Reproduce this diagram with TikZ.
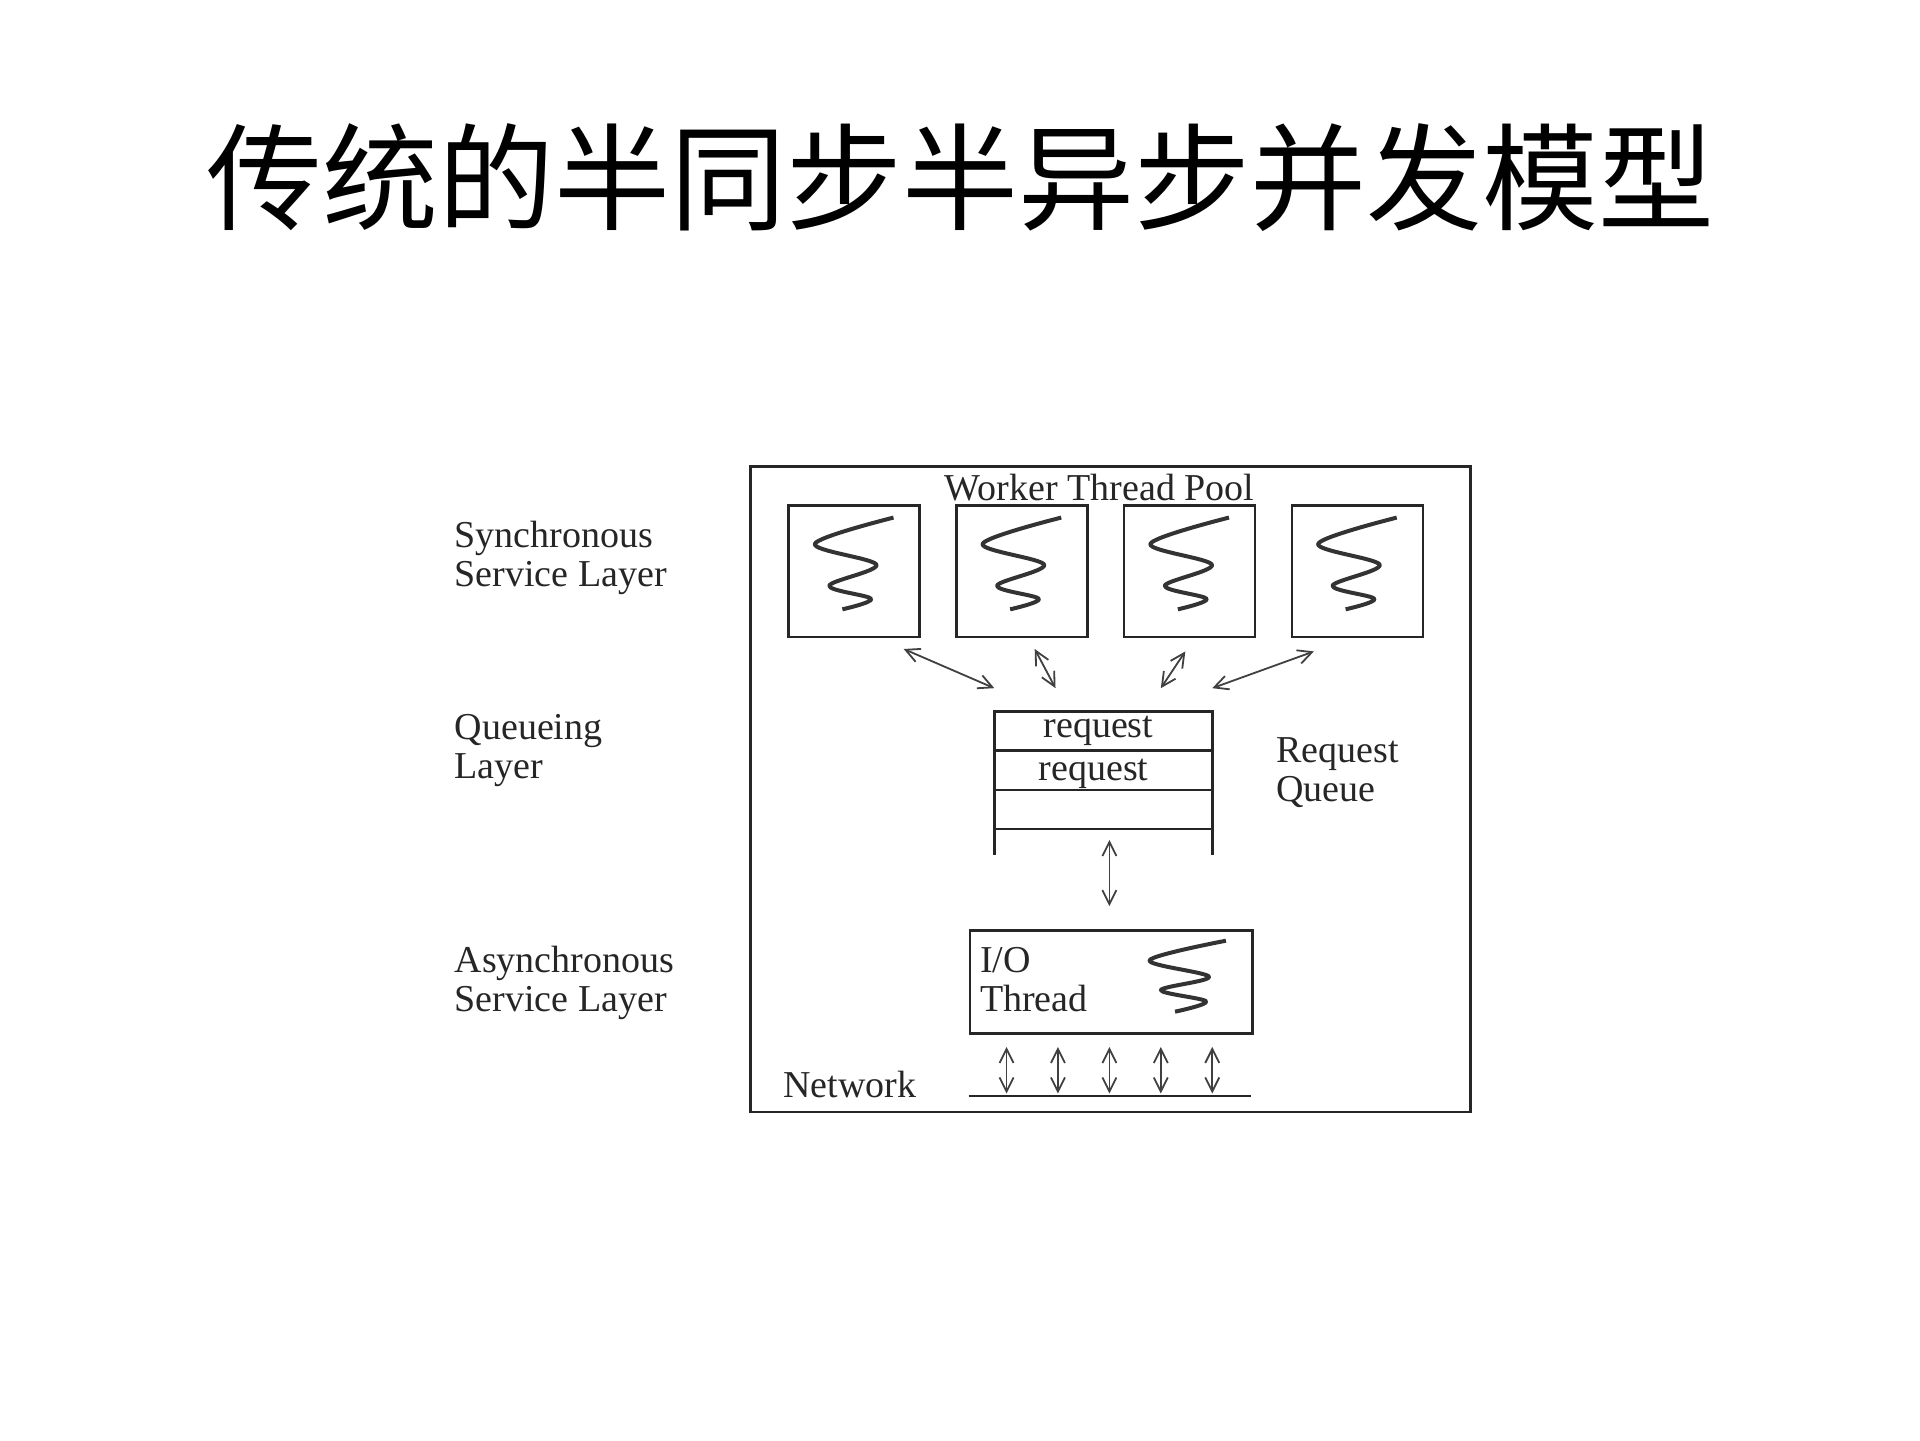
\documentclass[tikz,border=0pt]{standalone}
\usepackage{fontspec}
\setmainfont{Liberation Serif}
\newfontfamily\cjk{Noto Sans CJK SC}
\usetikzlibrary{arrows.meta}
\begin{document}
\begin{tikzpicture}[x=0.61224pt,y=-0.61224pt,
  ln/.style={line width=1.3pt,draw=black!85},
  thin/.style={line width=0.9pt,draw=black!75},
  dbl/.style={thin,{Straight Barb[length=7pt,width=7pt]}-{Straight Barb[length=7pt,width=7pt]}},
  lbl/.style={font=\fontsize{19}{19.5}\selectfont,text=black!85,inner sep=0pt},
  wbox/.style={ln,minimum width=65.5pt,minimum height=65.5pt,anchor=north west,inner sep=0pt},
  squig/.pic={\draw[line width=2pt,black!80,line join=round] plot[smooth,tension=0.55] coordinates {(0.81,0.10) (0.21,0.30) (0.68,0.46) (0.32,0.62) (0.64,0.72) (0.42,0.80)};},
  squigio/.pic={\draw[line width=2pt,black!80,line join=round] plot[smooth,tension=0.55] coordinates {(0.91,0.11) (0.64,0.30) (0.85,0.46) (0.68,0.59) (0.84,0.70) (0.73,0.80)};}]
\useasboundingbox (0,0) rectangle (1568,1176);
\node[font=\cjk\fontsize{58}{66}\selectfont] (title) at (784,145) {传统的半同步半异步并发模型};
\node[draw,ln,anchor=north west,minimum width=360pt,minimum height=322.6pt,inner sep=0pt] (outer) at (612,380) {};
\node[lbl] (wtp) at (898,398) {Worker Thread Pool};
\foreach \i/\x in {1/643,2/780,3/917,4/1054}{
  \node[draw,wbox] (w\i) at (\x,412) {};
  \pic[xscale=107,yscale=107] at (\x,412) {squig};
}
% arrows between pool and queue
\coordinate (a1) at (738,530); \coordinate (b1) at (812,562);
\coordinate (a2) at (845,530); \coordinate (b2) at (862,562);
\coordinate (a3) at (968,532); \coordinate (b3) at (948,562);
\coordinate (a4) at (1073,532); \coordinate (b4) at (990,562);
\foreach \i in {1,...,4}{\draw[dbl] (a\i) -- (b\i);}
% queue
\draw[ln] (812,698) -- (812,581) -- (990,581) -- (990,698);
\draw[ln] (812,613) -- (990,613) (812,645) -- (990,645) (812,677) -- (990,677);
\node[lbl] (r1) at (897,597) {request};
\node[lbl] (r2) at (893,632) {request};
\node[lbl,align=left,anchor=west] (rq) at (1042,631) {Request\\Queue};
\coordinate (qa) at (906,686); \coordinate (qb) at (906,740);
\draw[dbl] (qa) -- (qb);
% io thread
\node[draw,ln,anchor=north west,minimum width=141.4pt,minimum height=51.4pt,inner sep=0pt] (io) at (791,759) {};
\node[lbl,align=left,anchor=north west] (iot) at (800,773) {I/O\\Thread};
\pic[xscale=231,yscale=84] at (791,759) {squigio};
% network
\coordinate (nl) at (791,895); \coordinate (nr) at (1022,895);
\draw[ln] (nl) -- (nr);
\foreach \x in {822,864,906,948,990}{\draw[dbl] (\x,855) -- (\x,893);}
\node[lbl] (net) at (694,886) {Network};
% left labels
\node[lbl,align=left,anchor=north west] (sl) at (371,425) {Synchronous\\Service Layer};
\node[lbl,align=left,anchor=north west] (ql) at (371,583) {Queueing\\Layer};
\node[lbl,align=left,anchor=north west] (al) at (371,772) {Asynchronous\\Service Layer};
\end{tikzpicture}
\end{document}
